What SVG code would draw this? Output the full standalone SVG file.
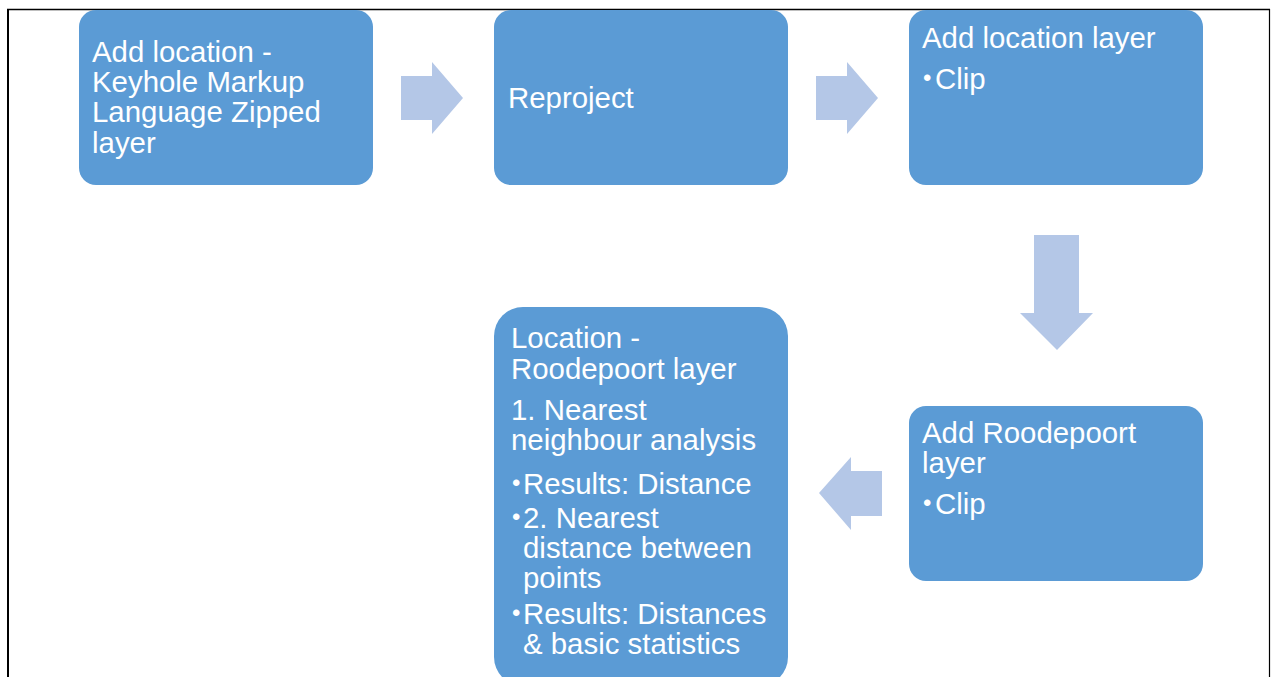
<svg xmlns="http://www.w3.org/2000/svg" width="1275" height="677" viewBox="0 0 1275 677">
  <style>
    .box { fill: #5B9BD5; }
    .arrow { fill: #B4C7E7; }
    .label { font-family: "Liberation Sans", Arial, sans-serif; font-size: 29.4px; fill: #FFFFFF; }
    .bullet { font-size: 24px; }
    .frame { stroke: #000000; fill: none; }
  </style>
  <rect width="1275" height="677" fill="#FFFFFF"/>

  <!-- page frame -->
  <g id="frame">
    <line class="frame" x1="8" y1="9" x2="8" y2="677" stroke-width="2"/>
    <line class="frame" x1="7" y1="9.5" x2="1270" y2="9.5" stroke-width="1.5"/>
    <line class="frame" x1="1269.5" y1="9" x2="1269.5" y2="677" stroke-width="1.2"/>
  </g>

  <!-- block arrows between steps -->
  <g id="connectors">
    <polygon class="arrow" points="401,76 432,76 432,62 463,98 432,134 432,120 401,120"/>
    <polygon class="arrow" points="816,76 847,76 847,62 878,98 847,134 847,120 816,120"/>
    <polygon class="arrow" points="1034,235 1079,235 1079,313 1093,313 1057,350 1020,313 1034,313"/>
    <polygon class="arrow" points="882,471 851,471 851,457 819,493 851,530 851,516 882,516"/>
  </g>

  <g id="step-kmz">
    <rect class="box" x="79" y="10" width="294" height="175" rx="17" ry="17"/>
    <text class="label">
      <tspan x="92" y="62">Add location -</tspan>
      <tspan x="92" y="92">Keyhole Markup</tspan>
      <tspan x="92" y="122">Language Zipped</tspan>
      <tspan x="92" y="153">layer</tspan>
    </text>
  </g>

  <g id="step-reproject">
    <rect class="box" x="494" y="10" width="294" height="175" rx="17" ry="17"/>
    <text class="label" x="508" y="108">Reproject</text>
  </g>

  <g id="step-location-layer">
    <rect class="box" x="909" y="10" width="294" height="175" rx="17" ry="17"/>
    <text class="label">
      <tspan x="922" y="48">Add location layer</tspan>
      <tspan class="bullet" x="923" y="86">•</tspan><tspan x="935" y="89">Clip</tspan>
    </text>
  </g>

  <g id="step-roodepoort-layer">
    <rect class="box" x="909" y="406" width="294" height="175" rx="17" ry="17"/>
    <text class="label">
      <tspan x="922" y="443">Add Roodepoort</tspan>
      <tspan x="922" y="473">layer</tspan>
      <tspan class="bullet" x="923" y="511">•</tspan><tspan x="935" y="514">Clip</tspan>
    </text>
  </g>

  <g id="step-analysis">
    <rect class="box" x="494" y="307" width="294" height="379" rx="29" ry="29"/>
    <text class="label">
      <tspan x="511" y="348">Location -</tspan>
      <tspan x="511" y="379">Roodepoort layer</tspan>
      <tspan x="511" y="420">1. Nearest</tspan>
      <tspan x="511" y="450">neighbour analysis</tspan>
      <tspan class="bullet" x="512" y="491">•</tspan><tspan x="523" y="494">Results: Distance</tspan>
      <tspan class="bullet" x="512" y="525">•</tspan><tspan x="523" y="528">2. Nearest</tspan>
      <tspan x="523" y="558">distance between</tspan>
      <tspan x="523" y="588">points</tspan>
      <tspan class="bullet" x="512" y="621">•</tspan><tspan x="523" y="624">Results: Distances</tspan>
      <tspan x="523" y="654">&amp; basic statistics</tspan>
    </text>
  </g>
</svg>
